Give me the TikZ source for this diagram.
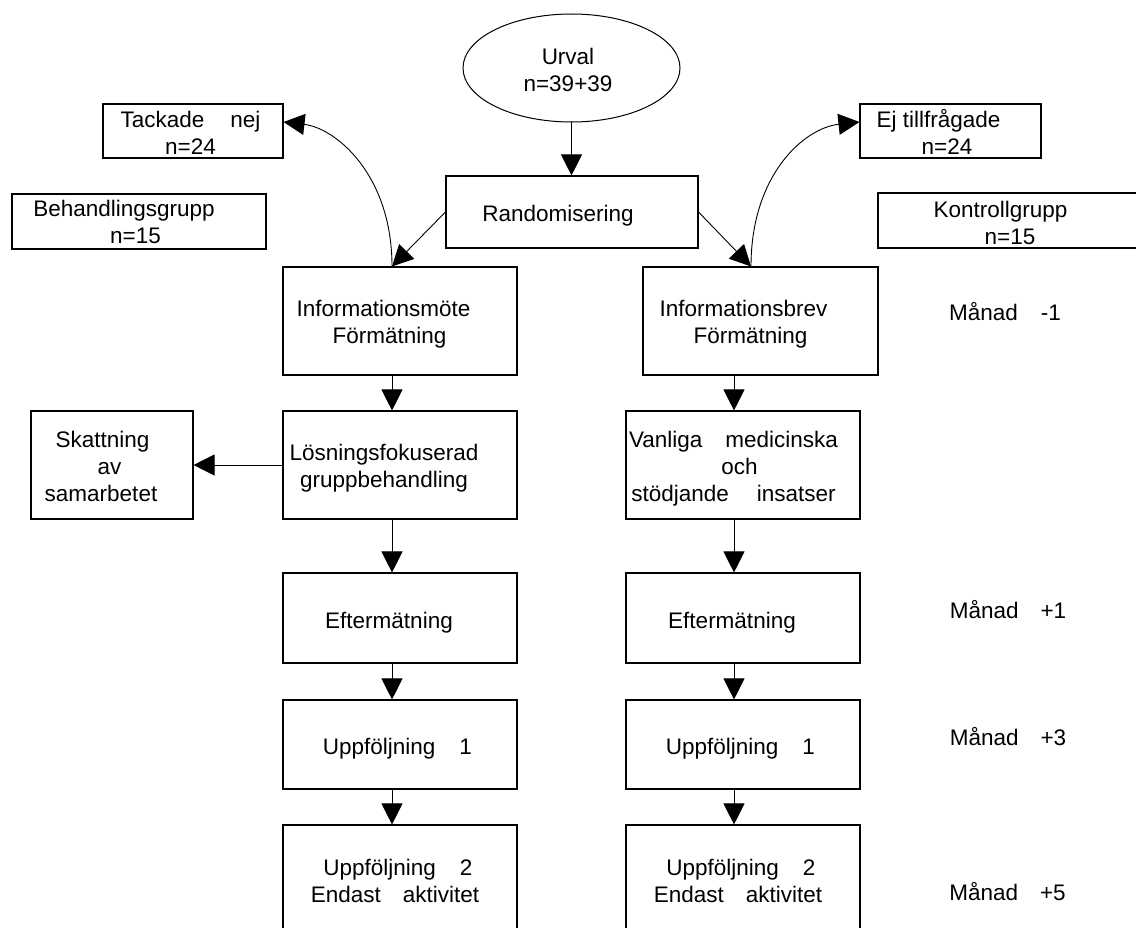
\documentclass[tikz,border=0pt]{standalone}
\usepackage{fontspec}
\setmainfont{Liberation Sans}
\usetikzlibrary{arrows.meta,shapes.geometric}
\begin{document}
\begin{tikzpicture}[x=1pt,y=-1pt,
  box/.style={draw, line width=1.1pt, inner sep=0pt},
  txt/.style={align=center, inner sep=0pt, yshift=-3pt, font=\fontsize{22.5}{27}\selectfont},
  arr/.style={line width=0.9pt, -{Triangle[length=21pt,width=21pt]}}]
\useasboundingbox (0,0) rectangle (1136,928);
\clip (0,0) rectangle (1136,928);
\fill[white] (0,0) rectangle (1136,928);

% top
\node[ellipse, draw, line width=1pt, inner sep=0pt, minimum width=217pt, minimum height=108pt] (u) at (571.5,68) {};
\node[txt] (tu) at (568,69.5) {\strut Urval\\\strut n=39+39};
\node[box, minimum width=252pt, minimum height=72pt] (r) at (572,212) {};
\node[txt] (tr) at (558,213) {\strut Randomisering};

\node[box, minimum width=180pt, minimum height=54pt] (tn) at (193,131) {};
\node[txt] (ttn) at (190.5,132.5) {\strut Tackade\hspace{26pt}nej\\\strut n=24};
\node[box, minimum width=254pt, minimum height=55pt] (bg) at (139,221.5) {};
\node[txt] (tbg) at (124,222) {\strut Behandlingsgrupp\\\strut\hspace*{23pt}n=15};

\node[box, minimum width=181pt, minimum height=54pt] (et) at (950.5,131) {};
\node[txt] (tet) at (938.5,133) {\strut Ej tillfrågade\\\strut\hspace*{17pt}n=24};
\node[box, minimum width=272pt, minimum height=55pt] (kg) at (1014,220.5) {};
\node[txt] (tkg) at (1000.5,222.5) {\strut Kontrollgrupp\\\strut\hspace*{19pt}n=15};

% left column
\node[box, minimum width=234pt, minimum height=108pt] (L1) at (400,321) {};
\node[txt] (tL1) at (383.5,322) {\strut Informationsmöte\\\strut\hspace*{12pt}Förmätning};
\node[box, minimum width=234pt, minimum height=108pt] (L2) at (400,465) {};
\node[txt] (tL2) at (384,465.5) {\strut Lösningsfokuserad\\\strut gruppbehandling};
\node[box, minimum width=234pt, minimum height=90pt] (L3) at (400,618) {};
\node[txt] (tL3) at (389,620) {\strut Eftermätning};
\node[box, minimum width=234pt, minimum height=89pt] (L4) at (400,744.5) {};
\node[txt] (tL4) at (397.5,746) {\strut Uppföljning\hspace{24pt}1};
\node[box, minimum width=234pt, minimum height=112pt] (L5) at (400,881) {};
\node[txt] (tL5) at (395,881) {\strut\hspace*{6pt}Uppföljning\hspace{24pt}2\\\strut Endast\hspace{22pt}aktivitet};

\node[box, minimum width=162pt, minimum height=108pt] (sk) at (112,465) {};
\node[txt] (tsk) at (101,466.5) {\strut\hspace*{3pt}Skattning\\\strut\hspace*{17pt}av\\\strut samarbetet};

% right column
\node[box, minimum width=235pt, minimum height=108pt] (R1) at (760.5,321) {};
\node[txt] (tR1) at (743.5,322) {\strut Informationsbrev\\\strut\hspace*{14pt}Förmätning};
\node[box, minimum width=234pt, minimum height=108pt] (R2) at (743,465) {};
\node[txt] (tR2) at (733.5,466.5) {\strut Vanliga\hspace{23pt}medicinska\\\strut\hspace*{12pt}och\\\strut stödjande\hspace{28pt}insatser};
\node[box, minimum width=234pt, minimum height=90pt] (R3) at (743,618) {};
\node[txt] (tR3) at (732,620) {\strut Eftermätning};
\node[box, minimum width=234pt, minimum height=89pt] (R4) at (743,744.5) {};
\node[txt] (tR4) at (740.5,746) {\strut Uppföljning\hspace{24pt}1};
\node[box, minimum width=234pt, minimum height=112pt] (R5) at (743,881) {};
\node[txt] (tR5) at (738,881) {\strut\hspace*{6pt}Uppföljning\hspace{24pt}2\\\strut Endast\hspace{22pt}aktivitet};

% month labels
\node[txt] (m1) at (1005,312) {\strut Månad\hspace{23pt}-1};
\node[txt] (m2) at (1008,610) {\strut Månad\hspace{22pt}+1};
\node[txt] (m3) at (1008,737) {\strut Månad\hspace{22pt}+3};
\node[txt] (m4) at (1007.5,892) {\strut Månad\hspace{22pt}+5};

% connectors
\draw[arr] (u.south) -- (u.south |- r.north);
\draw[arr] (r.west) -- ([xshift=-8pt]L1.north);
\draw[arr] (r.east) -- ([xshift=-9.5pt]R1.north);
\draw[arr] ([xshift=-8pt]L1.north) .. controls +(0,-92) and +(52,6) .. ([yshift=9pt]tn.east);
\draw[arr] ([xshift=-9.5pt]R1.north) .. controls +(0,-92) and +(-55,6) .. ([yshift=9pt]et.west);

\draw[arr] ([xshift=-8pt]L1.south) -- ([xshift=-8pt]L2.north);
\draw[arr] ([xshift=-8pt]L2.south) -- ([xshift=-8pt]L3.north);
\draw[arr] ([xshift=-8pt]L3.south) -- ([xshift=-8pt]L4.north);
\draw[arr] ([xshift=-8pt]L4.south) -- ([xshift=-8pt]L5.north);
\draw[arr] (L2.west) -- (sk.east);

\draw[arr] ([xshift=-9pt]R2.north |- R1.south) -- ([xshift=-9pt]R2.north);
\draw[arr] ([xshift=-9pt]R2.south) -- ([xshift=-9pt]R3.north);
\draw[arr] ([xshift=-9pt]R3.south) -- ([xshift=-9pt]R4.north);
\draw[arr] ([xshift=-9pt]R4.south) -- ([xshift=-9pt]R5.north);
\end{tikzpicture}
\end{document}
